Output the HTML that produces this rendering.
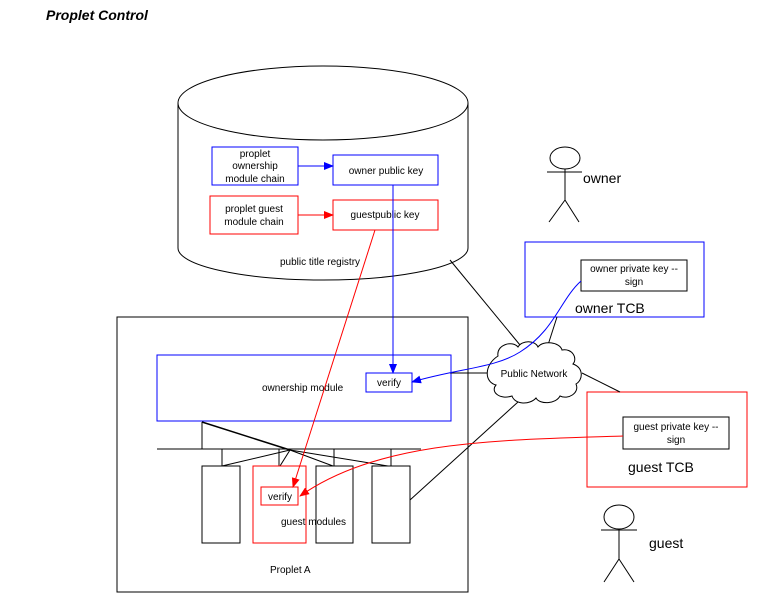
<!DOCTYPE html>
<html><head><meta charset="utf-8"><style>
html,body{margin:0;padding:0;background:#fff}
svg{display:block}
text{font-family:"Liberation Sans",sans-serif;font-size:10px;fill:#000}
</style></head><body>
<svg width="773" height="593" viewBox="0 0 773 593" xmlns="http://www.w3.org/2000/svg">
<defs>
<marker id="ab" markerWidth="10" markerHeight="8" refX="9" refY="4" orient="auto" markerUnits="userSpaceOnUse"><path d="M0,0 L10,4 L0,8 z" fill="#00f"/></marker>
<marker id="ar" markerWidth="10" markerHeight="8" refX="9" refY="4" orient="auto" markerUnits="userSpaceOnUse"><path d="M0,0 L10,4 L0,8 z" fill="#f00"/></marker>
</defs>
<text x="46" y="20" style="font-size:14px;font-weight:bold;font-style:italic">Proplet Control</text>

<!-- cylinder -->
<path d="M178,103 L178,248 A145,32 0 0 0 468,248 L468,103" fill="none" stroke="#000"/>
<ellipse cx="323" cy="103" rx="145" ry="37" fill="none" stroke="#000"/>
<text x="280" y="265">public title registry</text>

<rect x="212" y="147" width="86" height="38" fill="none" stroke="#00f"/>
<text x="255" y="157" text-anchor="middle">proplet</text>
<text x="255" y="169" text-anchor="middle">ownership</text>
<text x="255" y="182" text-anchor="middle">module chain</text>
<rect x="333" y="155" width="105" height="30" fill="none" stroke="#00f"/>
<text x="386" y="174" text-anchor="middle">owner public key</text>
<line x1="298" y1="166" x2="333" y2="166" stroke="#00f" marker-end="url(#ab)"/>

<rect x="210" y="196" width="88" height="38" fill="none" stroke="#f00"/>
<text x="254" y="212" text-anchor="middle">proplet guest</text>
<text x="254" y="225" text-anchor="middle">module chain</text>
<rect x="333" y="200" width="105" height="30" fill="none" stroke="#f00"/>
<text x="385" y="218" text-anchor="middle">guestpublic key</text>
<line x1="298" y1="215" x2="333" y2="215" stroke="#f00" marker-end="url(#ar)"/>

<!-- owner figure -->
<ellipse cx="565" cy="158" rx="15" ry="11" fill="none" stroke="#000"/>
<line x1="547" y1="172" x2="582" y2="172" stroke="#000"/>
<line x1="565" y1="169" x2="565" y2="200" stroke="#000"/>
<line x1="565" y1="200" x2="549" y2="222" stroke="#000"/>
<line x1="565" y1="200" x2="579" y2="222" stroke="#000"/>
<text x="583" y="183" style="font-size:14px">owner</text>

<rect x="525" y="242" width="179" height="75" fill="none" stroke="#00f"/>
<rect x="581" y="260" width="106" height="31" fill="none" stroke="#000"/>
<text x="634" y="272" text-anchor="middle">owner private key --</text>
<text x="634" y="285" text-anchor="middle">sign</text>
<text x="575" y="313" style="font-size:14px">owner TCB</text>

<rect x="587" y="392" width="160" height="95" fill="none" stroke="#f00"/>
<rect x="623" y="417" width="106" height="32" fill="none" stroke="#000"/>
<text x="676" y="430" text-anchor="middle">guest private key --</text>
<text x="676" y="443" text-anchor="middle">sign</text>
<text x="628" y="472" style="font-size:14px">guest TCB</text>

<!-- guest figure -->
<ellipse cx="619" cy="517" rx="15" ry="12" fill="none" stroke="#000"/>
<line x1="601" y1="530" x2="637" y2="530" stroke="#000"/>
<line x1="619" y1="529" x2="619" y2="559" stroke="#000"/>
<line x1="619" y1="559" x2="604" y2="582" stroke="#000"/>
<line x1="619" y1="559" x2="634" y2="582" stroke="#000"/>
<text x="649" y="548" style="font-size:14px">guest</text>

<!-- proplet A -->
<rect x="117" y="317" width="351" height="275" fill="none" stroke="#000"/>
<text x="270" y="573">Proplet A</text>
<rect x="157" y="355" width="294" height="66" fill="none" stroke="#00f"/>
<text x="262" y="391">ownership module</text>
<rect x="366" y="373" width="46" height="19" fill="none" stroke="#00f"/>
<text x="389" y="386" text-anchor="middle">verify</text>

<!-- bus -->
<line x1="157" y1="449" x2="421" y2="449" stroke="#000"/>
<line x1="202" y1="422" x2="202" y2="449" stroke="#000"/>
<line x1="202" y1="422" x2="290" y2="450" stroke="#000" stroke-width="1.5"/>
<line x1="222" y1="449" x2="222" y2="466" stroke="#000"/>
<line x1="279" y1="449" x2="279" y2="466" stroke="#000"/>
<line x1="334" y1="449" x2="334" y2="466" stroke="#000"/>
<line x1="391" y1="449" x2="391" y2="466" stroke="#000"/>
<line x1="290" y1="450" x2="222" y2="466" stroke="#000"/>
<line x1="290" y1="450" x2="280" y2="466" stroke="#000"/>
<line x1="290" y1="450" x2="333" y2="466" stroke="#000"/>
<line x1="290" y1="450" x2="388" y2="466" stroke="#000"/>
<rect x="202" y="466" width="38" height="77" fill="none" stroke="#000"/>
<rect x="253" y="466" width="53" height="77" fill="none" stroke="#f00"/>
<rect x="316" y="466" width="37" height="77" fill="none" stroke="#000"/>
<rect x="372" y="466" width="38" height="77" fill="none" stroke="#000"/>
<rect x="261" y="487" width="37" height="18" fill="none" stroke="#f00"/>
<text x="280" y="500" text-anchor="middle">verify</text>
<text x="281" y="525">guest modules</text>

<!-- network lines -->
<line x1="450" y1="260" x2="520" y2="345" stroke="#000"/>
<line x1="548" y1="345" x2="557" y2="317" stroke="#000"/>
<line x1="582" y1="373" x2="620" y2="392" stroke="#000"/>
<line x1="450" y1="373" x2="488" y2="373" stroke="#000"/>
<line x1="518" y1="402" x2="410" y2="500" stroke="#000"/>
<!-- cloud -->
<path d="M498,356 C496,345 512,340 518,347 C522,340 535,340 538,347 C543,340 560,342 562,350 C572,348 578,358 573,364 C584,368 583,380 576,384 C580,393 568,400 560,396 C556,404 540,405 536,398 C530,405 515,405 512,396 C500,400 490,392 496,385 C484,382 484,365 498,356 Z" fill="#fff" stroke="#000"/>
<text x="534" y="377" text-anchor="middle">Public Network</text>

<!-- arrows -->
<line x1="393" y1="185" x2="393" y2="373" stroke="#00f" marker-end="url(#ab)"/>
<path d="M581,281 C560,300 555,330 520,352 C495,368 460,368 412,382" fill="none" stroke="#00f" marker-end="url(#ab)"/>
<line x1="375" y1="230" x2="293" y2="487" stroke="#f00" marker-end="url(#ar)"/>
<path d="M623,436 C500,440 380,440 300,496" fill="none" stroke="#f00" marker-end="url(#ar)"/>
</svg>
</body></html>
